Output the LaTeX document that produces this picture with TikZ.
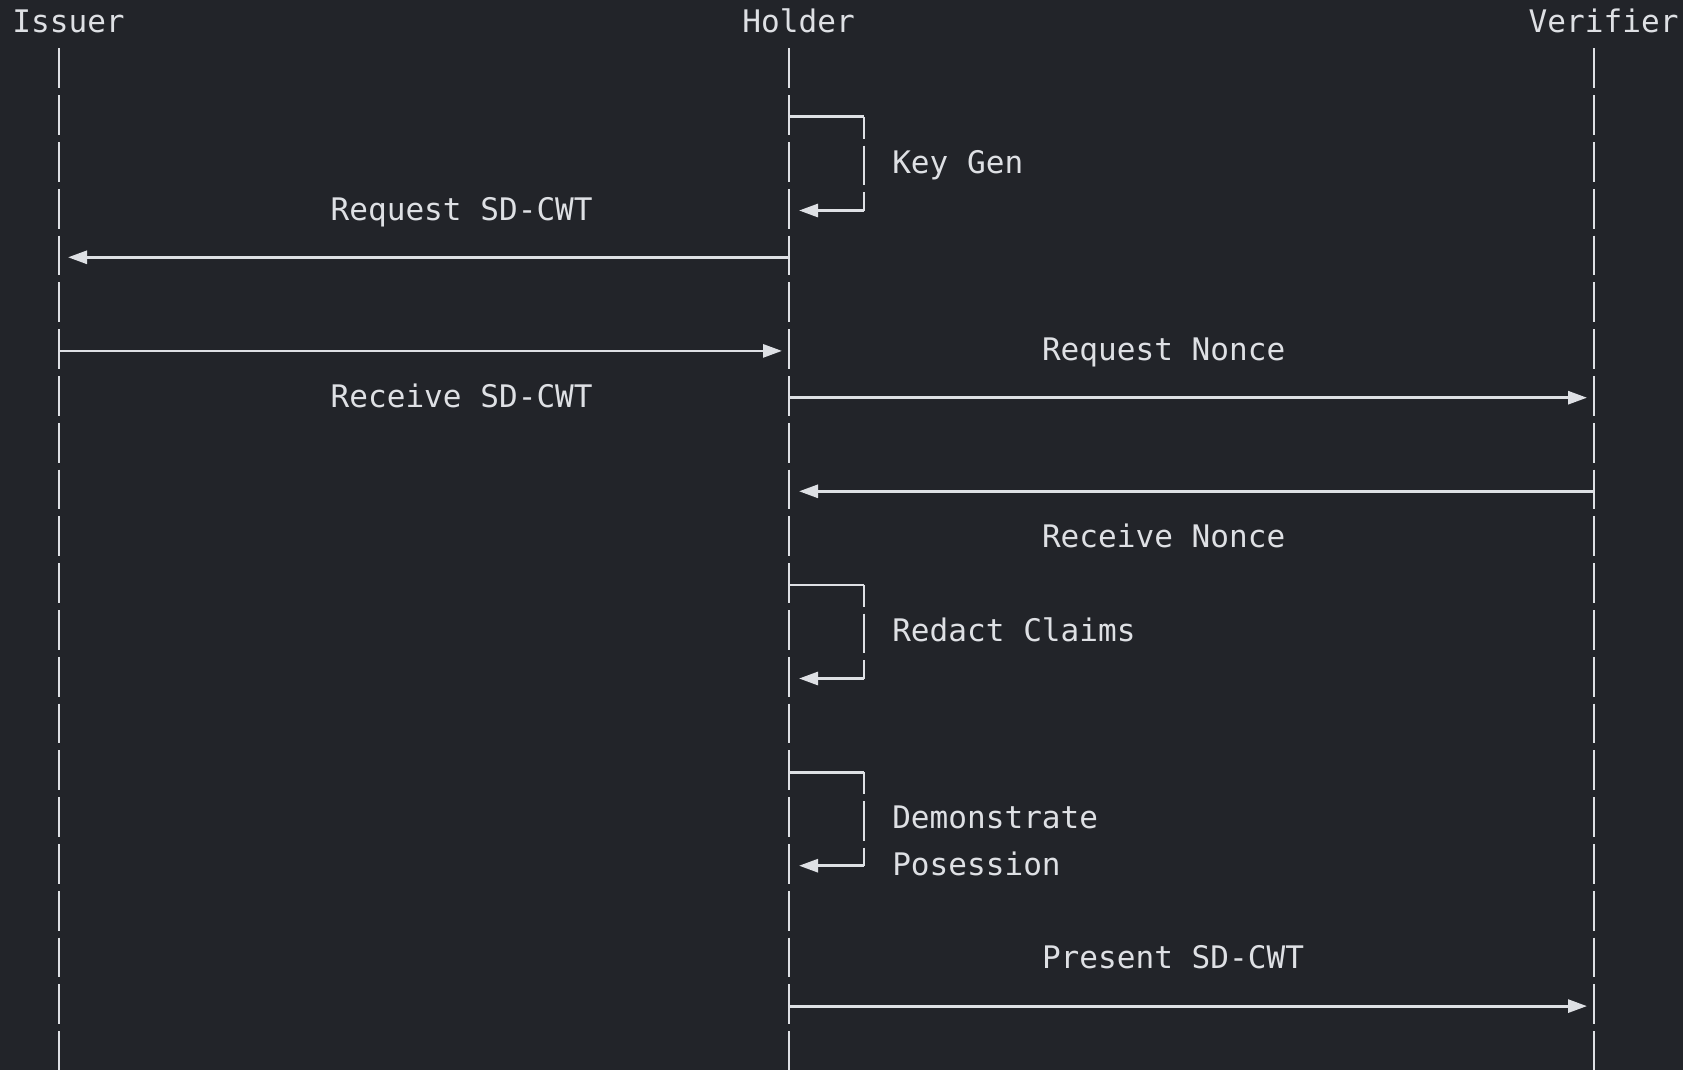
\documentclass[tikz,border=0pt]{standalone}
\usepackage{fontspec}
\setmonofont{DejaVu Sans Mono}
\usetikzlibrary{arrows.meta}
\definecolor{bgdark}{HTML}{222429}
\definecolor{ink}{HTML}{DEE0E4}
\tikzset{
  lbl/.style={anchor=base west, inner sep=0pt, text=ink,
    font=\ttfamily\fontsize{31.09}{37}\selectfont},
  life/.style={draw=ink, line width=2.8pt, dash pattern=on 39.8pt off 7pt},
  msgline/.style={draw=ink, line width=2.8pt},
  msg/.style={msgline, -{Triangle[length=19pt,width=13pt]}},
}
\begin{document}
\begin{tikzpicture}[x=1pt,y=1pt]
  % page and background
  \fill[bgdark] (0,0) rectangle (1683,-1070);
  \useasboundingbox (0,0) rectangle (1683,-1070);

  % row anchors on each lifeline (I = Issuer, H = Holder,
  % V = Verifier, B = right side of the Holder self-call loops);
  % horizontal strokes sit slightly below the middle of a text row
  \foreach \k in {0,...,22} {
    \pgfmathsetmacro\yy{-(23.3+46.8*\k)}
    \coordinate (I-\k) at (59,\yy);
    \coordinate (H-\k) at (789,\yy);
    \coordinate (V-\k) at (1594,\yy);
    \coordinate (B-\k) at (864,\yy);
  }
  \coordinate (I-end) at (59,-1070);
  \coordinate (H-end) at (789,-1070);
  \coordinate (V-end) at (1594,-1070);

  % participants
  \node[lbl] (issuer)   at ({12.2+0*18.72},{-(32.83)}) {Issuer};
  \node[lbl] (holder)   at ({12.2+39*18.72},{-(32.83)}) {Holder};
  \node[lbl] (verifier) at ({12.2+81*18.72},{-(32.83)}) {Verifier};

  % lifelines
  \draw[life] ([yshift=21.7pt]I-1) -- (I-end);
  \draw[life] ([yshift=21.7pt]H-1) -- (H-end);
  \draw[life] ([yshift=21.7pt]V-1) -- (V-end);

  % message labels
  \node[lbl] (keygen)  at ({12.2+47*18.72},{-(32.83+46.8*3)})  {Key Gen};
  \node[lbl] (reqcwt)  at ({12.2+17*18.72},{-(32.83+46.8*4)})  {Request SD-CWT};
  \node[lbl] (reqnon)  at ({12.2+55*18.72},{-(32.83+46.8*7)})  {Request Nonce};
  \node[lbl] (reccwt)  at ({12.2+17*18.72},{-(32.83+46.8*8)})  {Receive SD-CWT};
  \node[lbl] (recnon)  at ({12.2+55*18.72},{-(32.83+46.8*11)}) {Receive Nonce};
  \node[lbl] (redact)  at ({12.2+47*18.72},{-(32.83+46.8*13)}) {Redact Claims};
  \node[lbl] (demo1)   at ({12.2+47*18.72},{-(32.83+46.8*17)}) {Demonstrate};
  \node[lbl] (demo2)   at ({12.2+47*18.72},{-(32.83+46.8*18)}) {Posession};
  \node[lbl] (present) at ({12.2+55*18.72},{-(32.83+46.8*20)}) {Present SD-CWT};

  % Holder self-calls
  \foreach \a/\b in {2/4, 12/14, 16/18} {
    \draw[msgline] (H-\a) -- (B-\a);
    \draw[life, dash phase=18.1pt] (B-\a) -- (B-\b);
    \draw[msg] (B-\b) -- ([xshift=10pt]H-\b);
  }

  % messages between participants
  \draw[msg] (H-5)  -- ([xshift=9pt]I-5);
  \draw[msg] (I-7)  -- ([xshift=-7pt]H-7);
  \draw[msg] (H-8)  -- ([xshift=-7pt]V-8);
  \draw[msg] (V-10) -- ([xshift=10pt]H-10);
  \draw[msg] (H-21) -- ([xshift=-7pt]V-21);
\end{tikzpicture}
\end{document}
